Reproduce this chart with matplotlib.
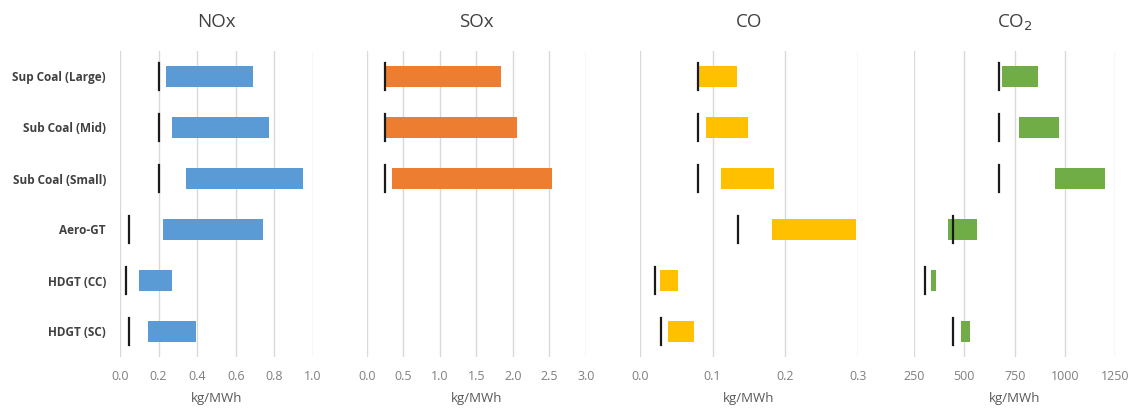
import matplotlib
matplotlib.use("Agg")
import matplotlib.pyplot as plt
import numpy as np

plt.rcParams['font.family'] = ['Open Sans', 'DejaVu Sans']

categories = ["Sup Coal (Large)", "Sub Coal (Mid)", "Sub Coal (Small)",
              "Aero-GT", "HDGT (CC)", "HDGT (SC)"]

# range bars (low, high) and the black reference marker, per pollutant
nox_low = [0.24, 0.27, 0.34, 0.225, 0.097, 0.144]
nox_high = [0.69, 0.77, 0.95, 0.74, 0.272, 0.396]
nox_mark = [0.2, 0.2, 0.2, 0.045, 0.03, 0.045]

sox_low = [0.25, 0.26, 0.34, None, None, None]
sox_high = [1.84, 2.06, 2.54, None, None, None]
sox_mark = [0.25, 0.25, 0.25, None, None, None]

co_low = [0.08, 0.091, 0.111, 0.182, 0.028, 0.038]
co_high = [0.133, 0.149, 0.184, 0.298, 0.053, 0.075]
co_mark = [0.08, 0.08, 0.08, 0.135, 0.021, 0.029]

co2_low = [689, 772, 950, 419, 333, 482]
co2_high = [868, 972, 1200, 563, 359, 528]
co2_mark = [671, 671, 671, 444, 303, 444]

panels = [
    ("NOx", nox_low, nox_high, nox_mark, "#5B9BD5", (0, 1.0), [0, 0.2, 0.4, 0.6, 0.8, 1.0], "{:.1f}"),
    ("SOx", sox_low, sox_high, sox_mark, "#ED7D31", (0, 3.0), [0, 0.5, 1.0, 1.5, 2.0, 2.5, 3.0], "{:.1f}"),
    ("CO", co_low, co_high, co_mark, "#FFC000", (0, 0.3), [0, 0.1, 0.2, 0.3], "{:.1f}"),
    ("CO$_2$", co2_low, co2_high, co2_mark, "#70AD47", (250, 1250), [250, 500, 750, 1000, 1250], "{:.0f}"),
]

# axes extents in pixels (left, right)
extents = [(120, 313), (366.7, 586), (640, 857.7), (914, 1115.3)]
W, H = 1136, 412
top_px, bot_px = 51, 357

fig = plt.figure(figsize=(W / 100, H / 100), dpi=100)
y = np.arange(len(categories))

for (title, low, high, mark, color, xlim, ticks, fmt), (l, r) in zip(panels, extents):
    ax = fig.add_axes([l / W, 1 - bot_px / H, (r - l) / W, (bot_px - top_px) / H])
    for i in y:
        if low[i] is None:
            continue
        ax.barh(i, high[i] - low[i], left=low[i], height=0.4, color=color, zorder=2)
        ax.plot([mark[i], mark[i]], [i - 0.27, i + 0.27], color="#1a1a1a", lw=1.6, zorder=3)
    ax.set_xlim(*xlim)
    ax.set_ylim(len(categories) - 0.5, -0.5)
    ax.set_xticks(ticks)
    ax.set_xticklabels([fmt.format(t) for t in ticks], fontsize=9, color="#7f7f7f")
    ax.grid(axis="x", color="#d9d9d9", lw=1.0, zorder=0)
    ax.set_axisbelow(True)
    ax.tick_params(axis="x", length=0, pad=9)
    ax.tick_params(axis="y", length=0)
    for s in ax.spines.values():
        s.set_visible(False)
    ax.set_xlabel("kg/MWh", fontsize=9.5, color="#595959", labelpad=7)
    ax.set_title(title, fontsize=13.5, color="#404040", pad=17)
    if title == "NOx":
        ax.set_yticks(y)
        ax.set_yticklabels(categories, fontsize=8.5, fontweight="bold", color="#404040")
        ax.tick_params(axis="y", pad=10)
    else:
        ax.set_yticks([])

fig.savefig("out.png", dpi=100)
